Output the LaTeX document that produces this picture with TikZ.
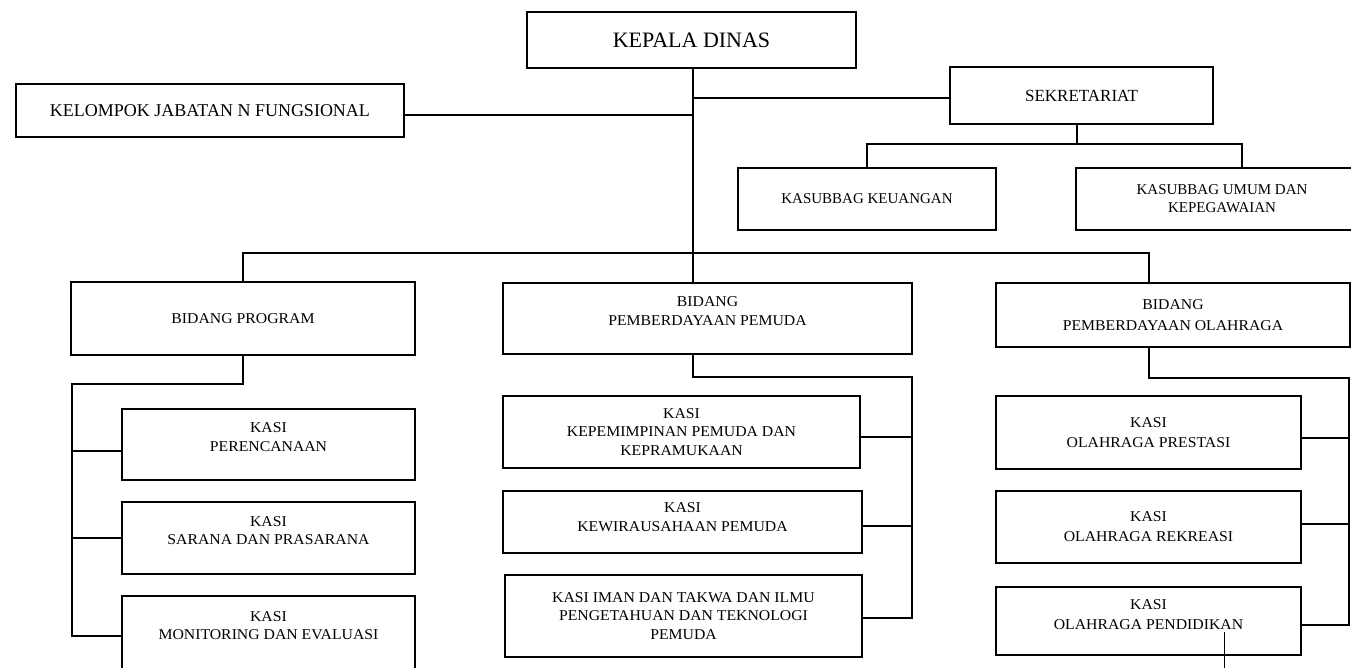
\documentclass[tikz,border=0pt]{standalone}
\usepackage{fontspec}
\setmainfont{Liberation Serif}
\newfontfamily\wideserif[FakeStretch=1.05]{Liberation Serif}
\begin{document}
\begin{tikzpicture}[x=1pt,y=-1pt,
  box/.style={draw, line width=1.4pt, inner sep=0pt, align=center},
  topbox/.style={box, font=\fontsize{15}{18}\selectfont},
  lowbox/.style={box, font=\wideserif\fontsize{15}{18.5}\selectfont},
  conn/.style={line width=1.4pt}]
\useasboundingbox (0,0) rectangle (1351,668);
% top level
\node[box, font=\fontsize{22}{26}\selectfont, minimum width=329pt, minimum height=56pt] (kd) at (691.5,40) {KEPALA DINAS};
\node[box, font=\fontsize{18}{21}\selectfont, minimum width=388pt, minimum height=53pt] (kjf) at (210,110.5) {KELOMPOK JABATAN N FUNGSIONAL};
\node[box, font=\fontsize{17}{20}\selectfont, minimum width=263pt, minimum height=57pt] (sek) at (1081.5,95.5) {SEKRETARIAT};
\node[topbox, minimum width=258pt, minimum height=62pt] (keu) at (867,199) {KASUBBAG KEUANGAN};
\node[topbox, minimum width=292pt, minimum height=62pt] (umum) at (1222,199) {KASUBBAG UMUM DAN\\KEPEGAWAIAN};
% bidang
\node[lowbox, minimum width=344pt, minimum height=73pt] (bp) at (243,318.5) {BIDANG PROGRAM};
\node[lowbox, font=\wideserif\fontsize{15}{19}\selectfont, minimum width=409pt, minimum height=71pt] (bpp) at (707.5,318.5) {BIDANG\\PEMBERDAYAAN PEMUDA\\[-4pt]\mbox{}};
\node[lowbox, font=\wideserif\fontsize{15}{21}\selectfont, minimum width=354pt, minimum height=64pt] (bpo) at (1173,315) {BIDANG\\PEMBERDAYAAN OLAHRAGA};
% kasi program
\node[lowbox, minimum width=293pt, minimum height=71pt] (per) at (268.5,444.5) {KASI\\PERENCANAAN\\[-4pt]\mbox{}};
\node[lowbox, minimum width=293pt, minimum height=72pt] (sar) at (268.5,538) {KASI\\SARANA DAN PRASARANA\\[-4pt]\mbox{}};
\node[lowbox, minimum width=293pt, minimum height=78pt] (mon) at (268.5,635) {KASI\\MONITORING DAN EVALUASI\\\mbox{}};
% kasi pemuda
\node[lowbox, minimum width=357pt, minimum height=72pt] (kep) at (681.5,432) {KASI\\KEPEMIMPINAN PEMUDA DAN\\KEPRAMUKAAN};
\node[lowbox, minimum width=359pt, minimum height=62pt] (kew) at (682.5,522) {KASI\\KEWIRAUSAHAAN PEMUDA\\[-9pt]\mbox{}};
\node[lowbox, minimum width=357pt, minimum height=82pt] (iman) at (683.5,616) {KASI IMAN DAN TAKWA DAN ILMU\\PENGETAHUAN DAN TEKNOLOGI\\PEMUDA};
% kasi olahraga
\node[lowbox, font=\wideserif\fontsize{15}{20}\selectfont, minimum width=305pt, minimum height=73pt] (pres) at (1148.5,432.5) {KASI\\OLAHRAGA PRESTASI};
\node[lowbox, font=\wideserif\fontsize{15}{20}\selectfont, minimum width=305pt, minimum height=72pt] (rek) at (1148.5,527) {KASI\\OLAHRAGA REKREASI};
\node[lowbox, font=\wideserif\fontsize{15}{20}\selectfont, minimum width=305pt, minimum height=68pt] (pend) at (1148.5,621) {KASI\\OLAHRAGA PENDIDIKAN\\[-8pt]\mbox{}};
% coordinates
\coordinate (bus) at (693,253);
\coordinate (jk) at (693,115);
\coordinate (sk) at (693,98);
\coordinate (sb) at (1077,144);
\coordinate (ul) at (1242,144);
\coordinate (br) at (1149,253);
\coordinate (p1) at (72,384);
\coordinate (pa) at (72,451);
\coordinate (pb) at (72,538);
\coordinate (pc) at (72,636);
\coordinate (q1) at (912,377);
\coordinate (qa) at (912,437);
\coordinate (qb) at (912,526);
\coordinate (qc) at (912,618);
\coordinate (r1) at (1349,378);
\coordinate (ra) at (1349,438);
\coordinate (rb) at (1349,524);
\coordinate (rc) at (1349,625);
\coordinate (s1) at (1224,632);
\coordinate (s2) at (1224,668);
% connectors
\draw[conn] (kd.south -| bus) -- (bpp.north -| bus);
\draw[conn] (jk -| kjf.east) -- (jk);
\draw[conn] (sk) -- (sk -| sek.west);
\draw[conn] (sek.south -| sb) -- (sb);
\draw[conn] (keu.north) |- (ul) -- (ul |- umum.north);
\draw[conn] (bp.north) |- (br) -- (br |- bpo.north);
\draw[conn] (bp.south) |- (p1) -- (pc) -- (pc -| mon.west);
\draw[conn] (pa) -- (pa -| per.west);
\draw[conn] (pb) -- (pb -| sar.west);
\draw[conn] (bpp.south -| bus) |- (q1) -- (qc) -- (qc -| iman.east);
\draw[conn] (qa -| kep.east) -- (qa);
\draw[conn] (qb -| kew.east) -- (qb);
\draw[conn] (bpo.south -| br) |- (r1) -- (rc) -- (rc -| pend.east);
\draw[conn] (ra -| pres.east) -- (ra);
\draw[conn] (rb -| rek.east) -- (rb);
\draw[line width=1pt] (s1) -- (s2);
\end{tikzpicture}
\end{document}
